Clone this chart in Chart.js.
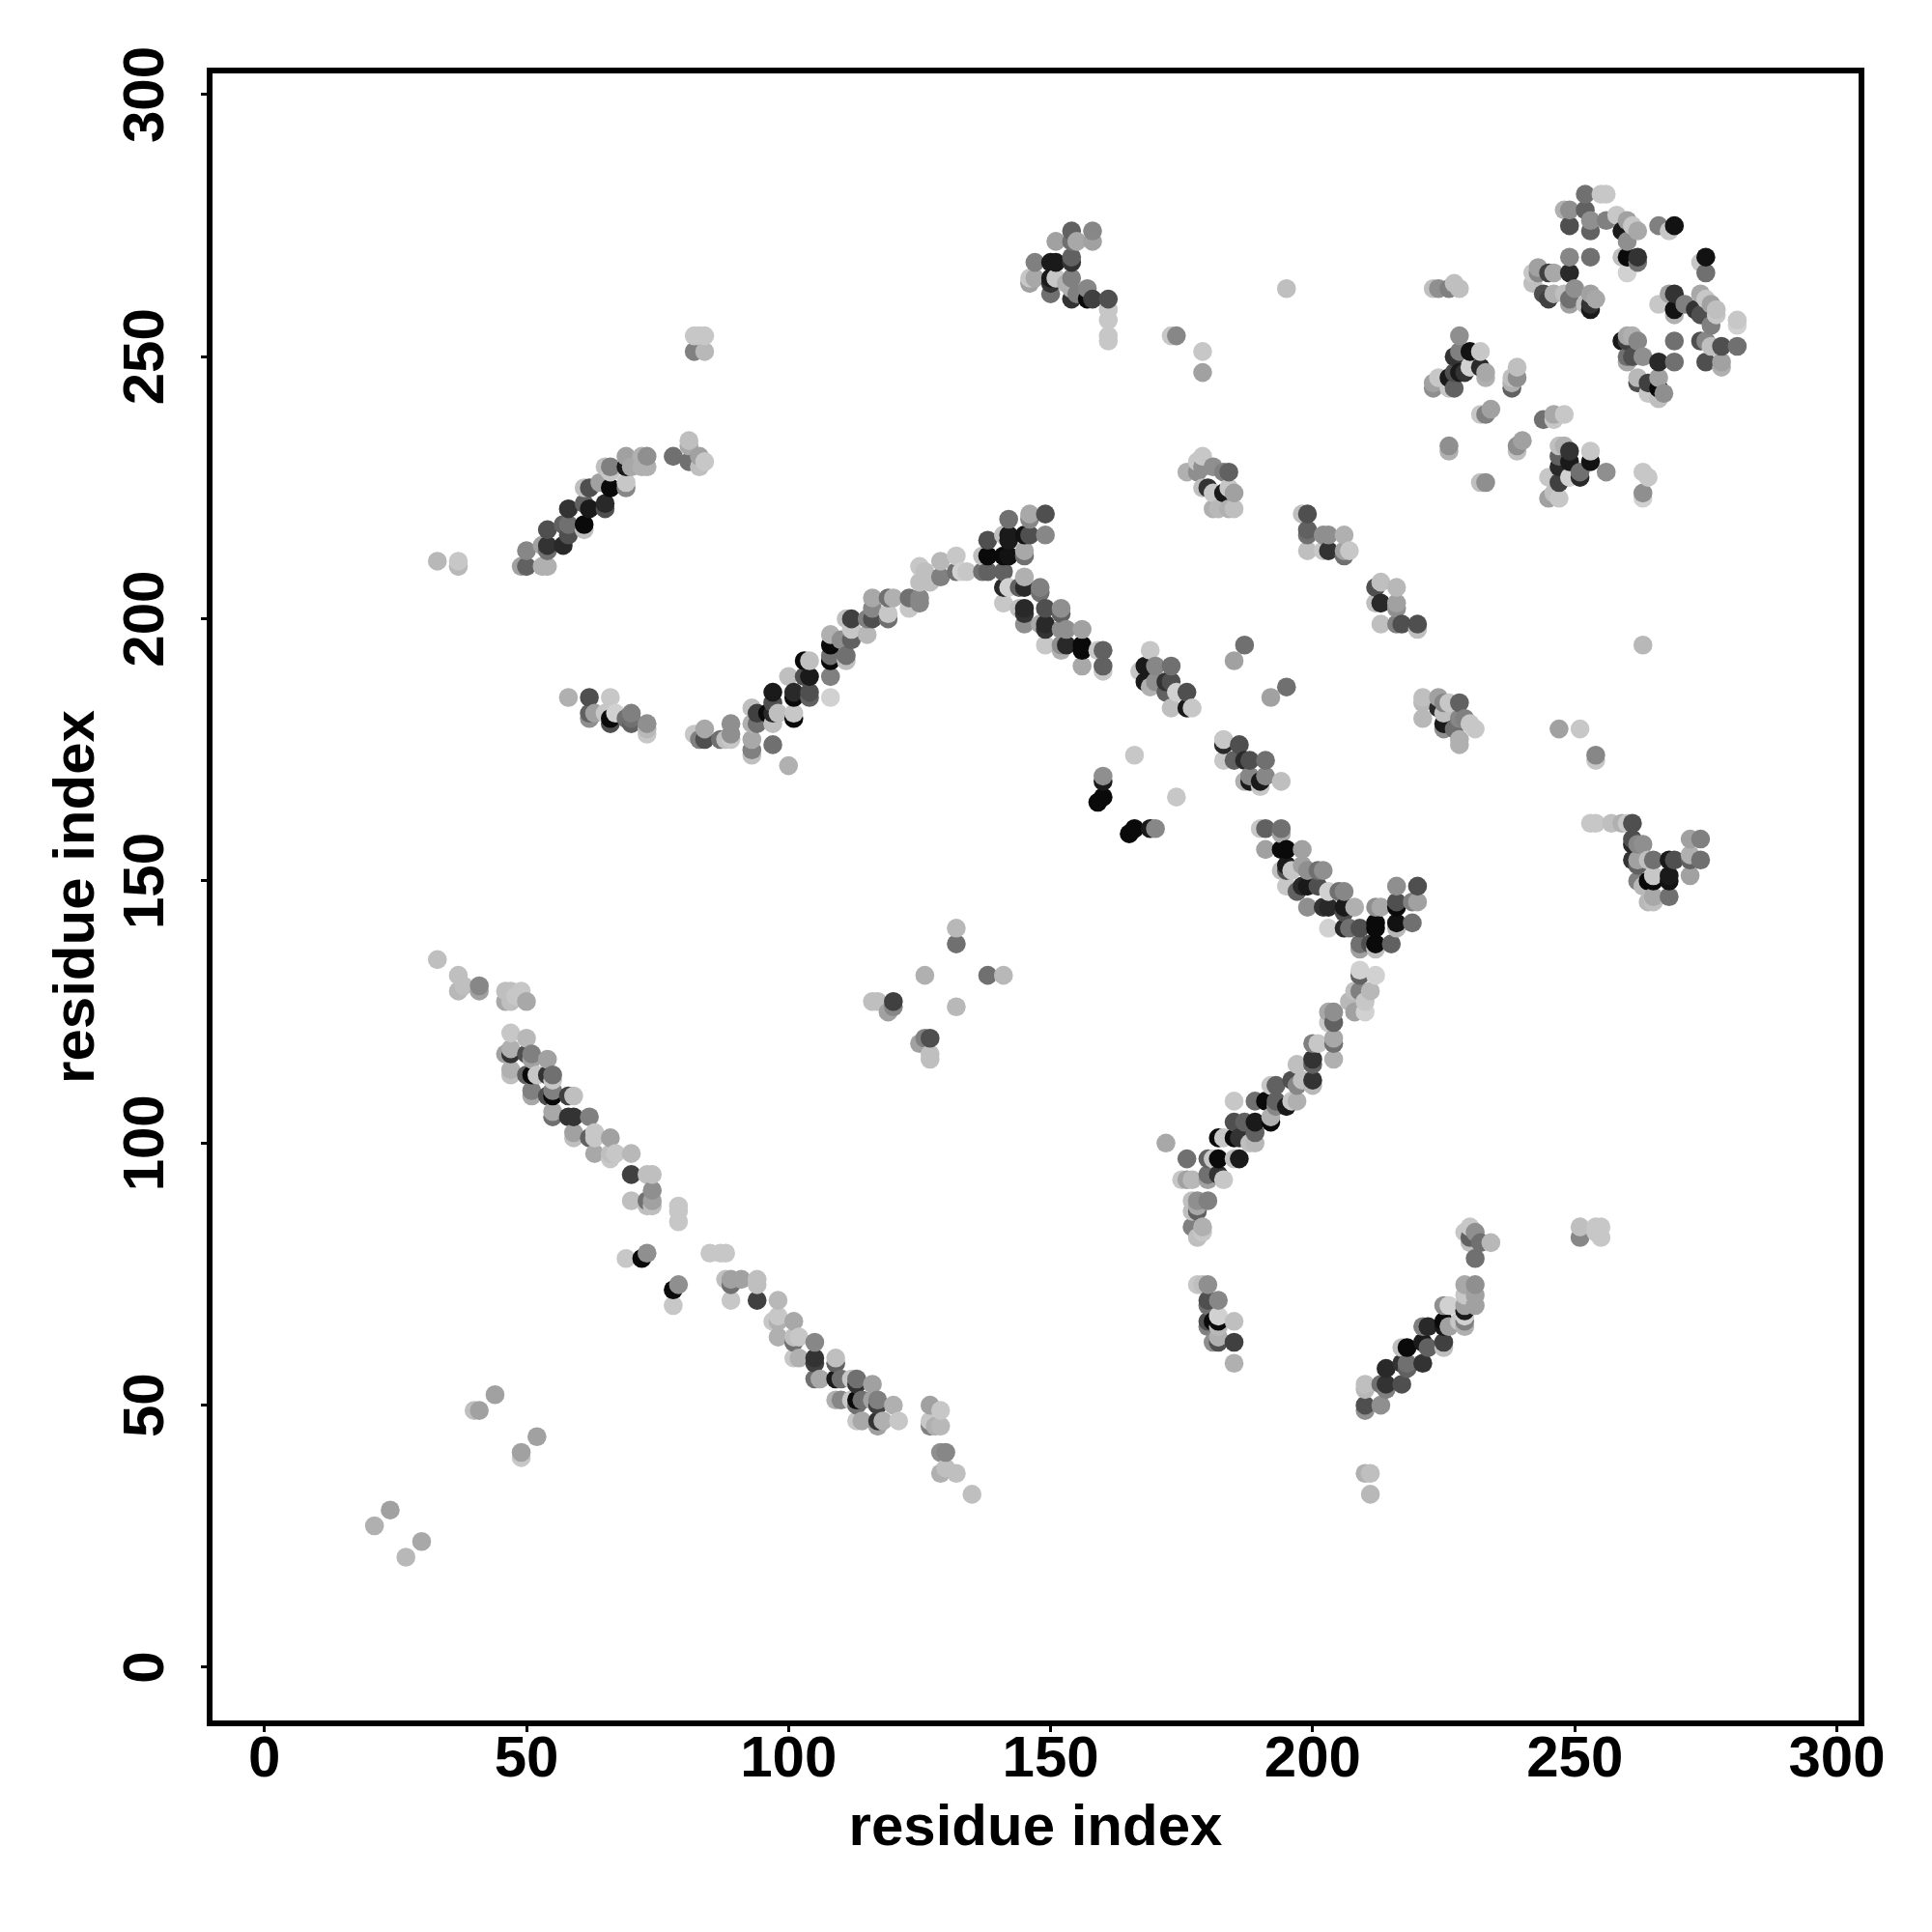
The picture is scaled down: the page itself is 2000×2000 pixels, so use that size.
<!DOCTYPE html>
<html>
<head>
<meta charset="utf-8">
<title>residue contacts</title>
<script src="https://cdn.jsdelivr.net/npm/chart.js@4/dist/chart.umd.min.js"></script>
<style>
  html, body { margin: 0; padding: 0; background: #fff; }
  canvas { display: block; }
</style>
</head>
<body>
<canvas id="contactMap" width="2000" height="2000"></canvas>
<script>
// each row is [residue i, residue j, contact strength 0-100]
const tickValues = [0, 50, 100, 150, 200, 250, 300];
const axisLabel = "residue index";

const lowerLeft = [
  [21,27,31],[24,30,37],[27,21,28],[30,24,34],[40,49,25],[41,49,37],[44,52,37],[49,40,22],[49,41,37],[52,44,37],
];
const longDiagonalUpper = [
  [33,135,25],[37,132,25],[37,129,28],[38,130,25],[41,130,47],[41,129,37],[46,129,25],[46,127,34],[47,127,25],[47,129,25],
  [49,129,22],[50,127,34],[48,128,22],[47,121,22],[50,120,28],[47,118,31],[46,117,37],[47,117,80],[50,117,69],[51,117,50],
  [51,116,37],[54,116,37],[47,114,31],[47,113,25],[50,113,62],[51,113,96],[52,113,22],[54,113,80],[55,113,56],[55,112,22],
  [51,110,50],[51,109,34],[54,109,69],[55,109,96],[55,110,50],[58,109,75],[59,109,25],[55,106,34],[55,105,56],[58,105,80],
  [59,105,80],[62,105,50],[59,102,37],[59,101,25],[62,101,62],[63,102,22],[63,101,22],[66,101,37],[63,98,34],[66,97,22],
  [66,98,25],[67,98,22],[70,98,28],[70,94,75],[73,94,25],[74,94,25],[70,89,25],[73,89,56],[74,91,44],[74,89,37],
  [73,88,25],[74,88,25],[79,88,22],[79,87,22],[79,85,22],[69,78,22],[72,78,96],[73,79,44],[85,79,22],[87,79,22],[88,79,22],
  [78,72,96],[79,73,44],[78,69,22],
];
const longDiagonalLower = [
  [88,74,25],[89,74,37],[89,73,56],[91,74,37],[94,74,25],[94,73,25],[89,70,22],[94,70,75],[98,70,28],[97,66,22],[98,67,22],
  [98,66,31],[101,66,34],[98,63,31],[101,62,56],[101,63,25],[102,63,22],[105,62,47],[101,59,22],[102,59,31],[105,59,80],
  [105,58,75],[109,59,25],[109,58,62],[105,55,56],[106,55,34],[109,55,90],[110,55,56],[112,55,22],[113,55,56],[113,54,80],
  [116,54,37],[109,51,31],[110,51,47],[112,51,22],[113,51,96],[113,50,56],[114,51,56],[116,51,37],[117,51,50],[117,50,75],
  [120,50,31],[113,47,22],[114,47,34],[117,47,80],[118,47,31],[117,46,37],[121,47,22],[127,50,37],[129,49,22],[127,47,22],
  [127,46,50],[128,46,31],[129,46,28],[129,41,44],[130,41,47],[130,38,25],[129,37,31],[132,37,25],[135,33,25],
];
const crossCluster = [
  [132,141,28],[132,138,56],[126,132,31],[138,132,56],[141,132,28],[132,126,28],[116,127,25],[117,127,25],[120,127,75],
  [120,126,47],[119,125,37],[126,120,50],[125,119,37],[127,120,69],[127,117,25],[127,116,25],
];
const upperStrandA = [
  [33,211,28],[37,211,22],[37,210,28],[50,213,47],[49,210,37],[50,210,62],[54,210,31],[53,210,31],[54,214,80],[54,213,56],
  [53,214,37],[57,214,84],[54,217,69],[58,218,56],[57,218,62],[58,216,69],[61,218,96],[61,217,25],[58,221,80],[61,222,62],
  [62,221,90],[65,222,84],[65,221,69],[62,225,69],[61,225,25],[66,225,96],[64,226,37],[69,226,22],[69,225,47],[66,229,50],
  [65,229,25],[66,228,22],[69,231,37],[69,229,90],[70,229,34],[72,229,31],[73,229,31],[72,231,31],[73,231,44],[78,231,56],
  [81,234,25],[81,233,34],[81,230,56],[83,231,37],[84,230,22],[83,229,25],[82,254,22],[83,254,22],[84,254,22],[82,251,50],[84,251,28],
];
const lowStrand = [
  [58,185,31],[62,185,69],[66,185,22],[62,182,62],[62,181,44],[63,182,37],[65,182,22],[66,181,96],[66,180,69],[67,182,18],
  [70,182,50],[70,181,56],[70,180,62],[69,181,56],[73,180,44],[73,179,28],[73,178,22],[82,178,22],[84,179,34],[84,177,69],
  [83,177,50],[87,177,56],[88,177,25],[89,180,44],[89,178,44],[89,177,22],
];
const risingStrand = [
  [93,183,25],[94,182,75],[94,180,56],[93,180,31],[93,177,34],[93,175,50],[93,174,25],[97,176,56],[100,172,31],[97,186,90],
  [97,182,84],[96,182,96],[97,180,25],[97,184,69],[98,182,25],[100,189,25],[101,186,84],[101,185,96],[101,182,22],[101,181,96],
  [104,186,69],[104,185,62],[108,185,18],[104,189,90],[103,189,69],[108,189,50],[104,192,25],[103,192,96],[108,192,96],
  [108,193,56],[111,193,56],[111,192,25],[108,197,31],[108,195,96],[110,196,44],[112,196,62],[112,198,22],[115,197,28],
  [112,200,75],[111,200,25],[116,200,69],[115,200,50],[116,204,34],[116,202,47],[119,200,56],[119,201,22],[119,204,56],
  [120,204,31],[123,204,56],[125,204,47],[123,202,22],[125,203,47],[125,210,22],[125,207,25],[126,209,25],[129,211,28],
  [127,207,25],[129,208,50],[132,212,22],[132,209,56],[133,209,18],
];
const peakCluster = [
  [134,209,22],[142,219,56],[146,220,34],[149,220,69],[146,219,47],[142,216,90],[142,215,90],[141,216,25],[145,216,93],
  [146,216,69],[149,216,47],[138,215,69],[138,212,96],[137,212,25],[141,212,96],[142,212,93],[145,213,34],[145,212,56],
  [137,209,56],[138,209,62],[141,209,62],[141,206,84],[142,206,18],[145,208,31],[145,206,84],[144,206,62],[148,206,50],
  [148,205,56],[141,203,22],[145,202,84],[145,201,80],[144,202,25],[149,202,69],[152,202,44],[152,201,62],[145,199,44],
  [148,199,34],[149,199,84],[149,198,80],[152,198,44],[153,198,44],[156,198,37],[149,195,22],[152,195,44],[153,195,84],
  [156,195,96],[156,194,96],[159,194,22],[160,194,62],[156,191,34],[160,191,62],[160,190,22],[152,194,31],
];
const topCluster = [
  [154,274,62],[158,274,47],[151,272,37],[155,272,34],[154,272,56],[158,272,37],[147,268,50],[150,268,90],[151,268,90],
  [154,269,62],[154,268,80],[146,265,22],[147,265,34],[146,264,37],[150,265,90],[151,265,22],[150,264,80],[150,262,56],
  [154,265,50],[153,264,31],[154,263,31],[157,263,47],[154,261,80],[155,262,50],[157,261,96],[158,261,75],[161,261,69],
  [161,259,22],[161,257,22],[161,254,22],[161,253,22],[173,254,22],[174,254,47],[179,251,22],[179,247,37],
];
const midCluster = [
  [195,263,25],[179,231,22],[178,230,22],[181,229,44],[179,229,44],[176,228,31],[184,228,62],[178,228,44],[183,228,50],
  [179,225,25],[180,225,80],[181,224,22],[183,224,90],[184,225,22],[185,224,37],[181,221,31],[182,221,28],[184,221,31],
  [185,221,25],[198,220,25],[199,220,69],[199,217,62],[199,216,56],[199,213,25],[202,216,44],[203,216,44],[206,216,31],
  [203,213,80],[202,213,22],[206,212,56],[206,213,37],[207,213,22],[213,207,25],[212,206,69],[216,206,28],[213,203,84],
  [212,203,25],[216,203,37],[216,202,44],[213,199,25],[216,199,50],[217,199,69],[220,199,69],[220,198,25],
];
const diagonalSteps = [
  [169,194,22],[168,191,90],[167,190,22],[170,191,47],[173,191,56],[168,188,90],[170,188,44],[169,187,31],[172,188,80],
  [173,188,69],[172,186,62],[174,186,18],[176,186,69],[173,183,25],[176,183,90],[177,183,22],[187,195,56],[185,192,37],
  [195,187,56],[192,185,37],[183,177,22],[183,176,84],[186,176,69],[183,173,22],[185,173,62],[187,173,84],[188,173,69],
  [191,173,56],[187,169,31],[188,169,90],[188,170,47],[190,169,90],[191,170,47],[190,168,22],[194,169,25],[166,174,22],
  [174,166,22],[160,170,44],[160,169,90],[160,166,96],[159,165,96],[166,160,96],[165,159,96],[169,160,90],[170,160,47],
];
const vShape = [
  [190,160,22],[191,160,62],[194,160,56],[194,159,34],[191,156,37],[194,156,96],[195,156,96],[198,156,37],[195,153,90],
  [194,152,25],[195,152,69],[196,152,22],[198,153,37],[199,152,44],[201,152,56],[202,152,44],[198,149,84],[195,149,22],
  [199,149,90],[197,148,62],[201,149,69],[203,148,18],[205,148,56],[206,148,47],[199,145,44],[202,145,80],[203,145,84],
  [206,145,90],[208,145,31],[206,144,69],[203,141,18],[206,141,84],[207,141,56],[209,141,69],[212,142,96],[212,141,96],
  [213,145,34],[212,145,44],[216,146,69],[216,145,96],[216,149,44],[220,149,69],[220,146,37],[219,146,50],[216,142,93],
  [219,142,56],[216,141,28],[209,138,56],[209,137,37],[212,138,96],[212,137,25],[215,138,62],[211,138,69],
];
const rightOfV = [
  [221,185,25],[221,184,28],[221,181,28],[224,185,37],[228,184,62],[225,184,47],[224,183,84],[226,184,22],[225,180,90],
  [225,182,25],[225,179,44],[228,181,47],[229,181,50],[230,180,22],[231,179,22],[228,176,31],[228,177,31],[227,179,56],
  [247,179,37],[251,179,22],[254,174,47],[254,173,22],[263,195,28],
];
const lowerRightBlob = [
  [253,161,22],[254,161,22],[257,161,25],[259,161,31],[260,161,22],[261,161,69],[261,158,69],[261,157,84],[262,157,47],
  [263,157,44],[261,154,80],[262,154,37],[262,153,62],[264,154,25],[265,154,56],[268,154,90],[269,154,69],[272,158,37],
  [274,158,50],[272,155,31],[272,154,62],[274,154,56],[272,151,37],[262,150,50],[263,149,28],[264,150,96],[265,151,22],
  [265,150,96],[268,151,90],[268,150,93],[264,146,28],[265,147,34],[265,146,25],[268,147,56],
];
const risingLowerStrand = [
  [209,133,18],[209,132,62],[212,132,18],[211,129,28],[209,129,50],[208,129,25],[210,127,22],[207,127,28],[208,125,37],
  [210,125,18],[204,125,44],[203,125,34],[204,123,62],[203,123,22],[204,120,34],[204,119,56],[201,119,22],[200,119,50],
  [204,116,31],[200,116,80],[197,115,25],[200,115,62],[200,112,80],[200,111,28],[198,112,25],[196,112,69],[197,111,47],
  [193,111,62],[192,111,22],[197,108,31],[196,108,22],[195,107,90],[189,108,56],[185,108,22],[191,108,96],[193,108,62],
  [193,107,47],[192,105,31],[192,104,96],[189,104,90],[189,102,62],[185,104,69],[187,104,62],[182,101,96],[183,101,22],
  [185,101,96],[186,101,80],[188,100,25],[189,100,28],[172,100,34],[176,97,56],[180,97,62],[181,97,22],[182,97,96],
  [185,97,25],[186,97,90],[175,93,22],[176,93,37],[177,93,28],[180,94,56],[182,94,80],[183,93,22],[180,93,37],
];
const lowerFoot = [
  [178,89,44],[180,89,50],[177,89,25],[178,87,62],[177,87,25],[178,88,34],[177,84,50],[179,84,31],[178,82,25],[179,83,22],
  [178,73,22],[179,73,25],[180,73,44],[180,70,69],[182,70,47],[180,69,56],[182,67,18],[180,66,69],[181,66,96],[182,66,96],
  [185,66,25],[180,65,50],[182,65,28],[181,62,44],[182,62,69],[182,63,31],[185,62,75],[185,58,31],
];
const lowerRightStrand = [
  [210,54,25],[210,53,28],[213,54,56],[214,54,80],[214,53,50],[217,54,69],[210,50,69],[210,49,44],[213,50,44],[214,57,84],
  [217,58,80],[218,58,56],[218,57,62],[221,58,80],[217,61,25],[218,61,96],[221,62,90],[222,61,62],[225,62,75],[225,61,25],
  [221,65,50],[222,65,84],[225,66,96],[225,65,90],[226,65,37],[229,66,50],[229,65,31],[228,66,22],[225,69,44],[226,69,18],
  [229,69,37],[229,68,90],[231,69,37],[229,67,18],[229,73,34],[231,73,44],[229,71,22],[231,71,37],[210,37,31],[211,37,25],[211,33,28],
  [230,84,22],[229,83,22],[231,83,44],[230,82,62],[230,81,25],[232,81,56],[234,81,28],[231,78,56],[251,84,25],[251,82,47],
  [254,84,22],[255,84,22],[255,82,22],[254,83,22],
];
const ringLeft = [
  [228,254,44],[227,250,80],[228,251,50],[230,251,93],[232,251,22],[223,245,37],[223,244,44],[224,246,22],[226,246,90],
  [227,244,62],[227,247,69],[228,247,90],[229,247,80],[230,248,18],[232,248,84],[233,247,34],[233,246,31],[226,244,22],
  [239,248,25],[239,246,44],[238,246,25],[238,244,62],[238,245,31],[223,263,25],[224,263,44],[227,264,25],[228,263,25],
  [226,263,50],[232,239,22],[233,239,50],[234,240,37],[244,238,56],[246,239,34],[248,239,22],[246,238,22],[226,233,44],
  [226,232,31],[239,233,44],[240,234,37],[239,232,25],[232,226,25],[233,226,44],[247,233,25],[248,233,31],[249,232,80],
  [253,232,22],[253,230,93],[256,228,44],[247,231,62],[247,229,84],[249,230,90],[249,227,18],[251,227,84],[251,228,56],
  [245,227,22],[247,226,75],[245,223,37],[247,223,22],[246,224,25],[263,228,22],[264,227,22],[263,224,44],[263,223,18],
];
const ringTop = [
  [252,281,56],[255,281,22],[256,281,22],[248,278,31],[249,278,44],[252,278,62],[249,275,69],[253,276,44],[253,274,62],
  [256,276,50],[258,277,22],[260,276,37],[261,275,22],[262,274,34],[259,274,90],[260,272,44],[266,275,50],[268,274,22],
  [269,275,93],[249,269,47],[253,269,56],[259,269,25],[260,269,96],[262,269,80],[262,268,56],[260,266,18],[275,269,93],
  [274,268,22],[275,266,56],[249,266,84],[243,267,37],[242,266,22],[243,266,47],[245,266,75],[246,266,34],[242,264,25],
  [244,262,69],[246,262,31],[245,261,75],[248,262,25],[250,263,44],[249,260,37],[249,261,56],[253,262,37],[252,260,25],
  [254,261,34],[253,259,90],[253,260,80],
];
const ringRight = [
  [269,262,80],[268,262,37],[266,260,22],[269,259,93],[269,258,31],[271,260,50],[274,262,34],[275,261,22],[276,260,37],
  [277,259,25],[277,258,22],[273,259,80],[274,258,69],[276,256,50],[281,256,18],[281,257,22],[274,253,69],[275,253,47],
  [276,252,25],[278,252,69],[281,252,56],[275,249,69],[278,249,37],[278,248,31],[269,253,56],[269,249,56],[266,249,84],
  [259,253,90],[260,254,34],[261,254,31],[262,253,47],[260,253,75],[260,250,56],[260,249,34],[261,250,69],[263,250,44],
  [262,246,28],[262,245,69],[264,245,75],[266,246,37],[266,244,96],[267,243,44],[266,242,25],[264,243,22],
];

const contactGroups = [
  lowerLeft, longDiagonalUpper, longDiagonalLower, crossCluster, upperStrandA, lowStrand, risingStrand, peakCluster,
  topCluster, midCluster, diagonalSteps, vShape, rightOfV, lowerRightBlob, risingLowerStrand, lowerFoot,
  lowerRightStrand, ringLeft, ringTop, ringRight,
];

// drawn column by column, the later ones end up on top
const contacts = contactGroups.flat().sort((a, b) => a[0] - b[0] || a[1] - b[1]);

function strengthToGrey(s) {
  const g = Math.round(255 - s * 2.55);
  return `rgb(${g},${g},${g})`;
}

// box around the plot, R style
const frame = {
  id: "frame",
  afterDraw(chart) {
    const { ctx, chartArea: a } = chart;
    ctx.save();
    ctx.strokeStyle = "#000";
    ctx.lineWidth = 6;
    ctx.strokeRect(a.left, a.top, a.right - a.left, a.bottom - a.top);
    ctx.restore();
  },
};

const tickFont = { family: "Liberation Sans", size: 60, weight: "bold" };
const titleFont = { family: "Liberation Sans", size: 60, weight: "bold" };

new Chart(document.getElementById("contactMap"), {
  type: "scatter",
  data: {
    datasets: [{
      data: contacts.map(c => ({ x: c[0], y: c[1] })),
      pointRadius: 9.8,
      pointBorderWidth: 0,
      pointBackgroundColor: contacts.map(c => strengthToGrey(c[2])),
    }],
  },
  plugins: [frame],
  options: {
    responsive: false,
    animation: false,
    devicePixelRatio: 1,
    layout: { padding: { top: 73, right: 73, left: 0, bottom: 0 } },
    plugins: { legend: { display: false }, tooltip: { enabled: false } },
    scales: {
      x: {
        type: "linear",
        min: -10.45,
        max: 304.7,
        afterBuildTicks: s => { s.ticks = tickValues.map(v => ({ value: v })); },
        afterFit: s => { s.height = 216; },
        grid: { drawOnChartArea: false, tickLength: 9, tickWidth: 3, tickColor: "#000" },
        border: { display: false },
        ticks: { color: "#000", font: tickFont, padding: -7, maxRotation: 0, autoSkip: false },
        title: { display: true, text: axisLabel, color: "#000", font: titleFont, padding: { top: 0, bottom: 71 } },
      },
      y: {
        type: "linear",
        min: -10.69,
        max: 304.6,
        afterBuildTicks: s => { s.ticks = tickValues.map(v => ({ value: v })); },
        afterFit: s => { s.width = 217; },
        grid: { drawOnChartArea: false, tickLength: 9, tickWidth: 3, tickColor: "#000" },
        border: { display: false },
        ticks: { color: "#000", font: tickFont, padding: 5, minRotation: 90, maxRotation: 90, crossAlign: "center", autoSkip: false },
        title: { display: true, text: axisLabel, color: "#000", font: titleFont, padding: { top: 44, bottom: 0 } },
      },
    },
  },
});
</script>
</body>
</html>
